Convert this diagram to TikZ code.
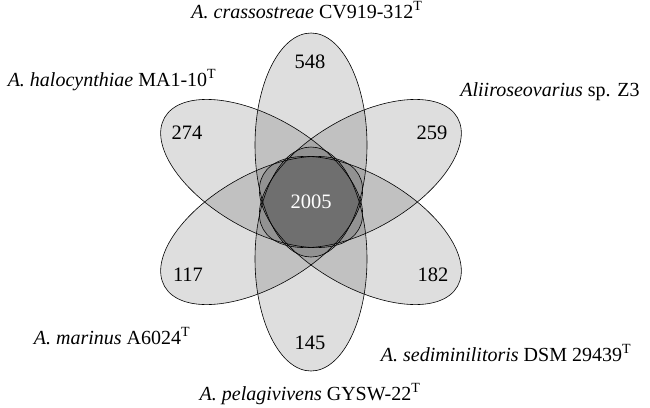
\documentclass[tikz,border=0pt]{standalone}
\usepackage{fontspec}
\setmainfont{Liberation Serif}
\begin{document}
\begin{tikzpicture}[x=1pt,y=-1pt]
\tikzset{
  petal/.style={draw=black, line width=0.6pt, fill=black, fill opacity=0.13},
  lab/.style={font=\fontsize{20}{24}\selectfont, inner sep=0pt, anchor=base},
  num/.style={font=\fontsize{20.5}{24}\selectfont, inner sep=0pt},
}
\useasboundingbox (0,0) rectangle (650,407);
\coordinate (C) at (311,202);
\foreach \ang in {90,270,30,150,210,330}{
  \draw[petal, shift={(C)}, rotate=\ang] (57pt,0pt) ellipse [x radius=112pt, y radius=56pt];
}
\node[num] (n548) at (310,62) {548};
\node[num] (n274) at (187,133) {274};
\node[num] (n259) at (432,133) {259};
\node[num] (n117) at (188,275) {117};
\node[num] (n182) at (433,275) {182};
\node[num] (n145) at (310,343) {145};
\node[num, text=white] (n2005) at (311,202) {2005};
\node[lab] (t1) at (307,18) {\textit{A. crassostreae} CV919-312\textsuperscript{T}};
\node[lab] (t2) at (112,86) {\textit{A. halocynthiae} MA1-10\textsuperscript{T}};
\node[lab] (t3) at (550,96) {\textit{Aliiroseovarius} sp. Z3};
\node[lab] (t4) at (112,344) {\textit{A. marinus} A6024\textsuperscript{T}};
\node[lab] (t5) at (506,361) {\textit{A. sediminilitoris} DSM 29439\textsuperscript{T}};
\node[lab] (t6) at (310,400) {\textit{A. pelagivivens} GYSW-22\textsuperscript{T}};
\end{tikzpicture}
\end{document}
